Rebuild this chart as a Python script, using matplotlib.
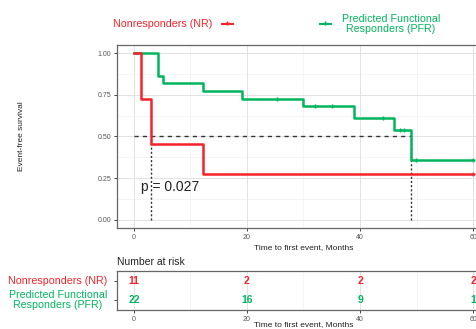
import numpy as np
import matplotlib
matplotlib.use('Agg')
import matplotlib.pyplot as plt
from matplotlib.lines import Line2D

plt.rcParams['font.family'] = ['Liberation Sans', 'DejaVu Sans']

red = "#F5222A"
green = "#00B55E"

# step curves (time in months, survival probability)
nr_t = [0, 1.2, 3.0, 12.2, 60]
nr_s = [1.0, 0.727, 0.455, 0.273, 0.273]
nr_cens_t = [60]
nr_cens_s = [0.273]

pfr_t = [0, 4.2, 5.1, 12.2, 19.2, 30.0, 38.9, 46.0, 49.0, 60]
pfr_s = [1.0, 0.864, 0.818, 0.773, 0.727, 0.683, 0.613, 0.539, 0.359, 0.359]
pfr_cens_t = [25.3, 32.0, 35.0, 44.0, 47.1, 47.8, 49.9, 60.0]
pfr_cens_s = [0.727, 0.683, 0.683, 0.613, 0.539, 0.539, 0.359, 0.359]

medians = [3.0, 49.0]

risk_times = [0, 20, 40, 60]
nr_risk = [11, 2, 2, 2]
pfr_risk = [22, 16, 9, 1]

group_labels = ["Nonresponders (NR)", "Predicted Functional\nResponders (PFR)"]

W, H = 477, 329
fig = plt.figure(figsize=(W / 100, H / 100), dpi=100)

def box(l, t, r, b):
    return [l / W, 1 - b / H, (r - l) / W, (b - t) / H]

def style(ax):
    for s in ax.spines.values():
        s.set_color("#666666")
        s.set_linewidth(0.9)
    ax.grid(True, which='major', color="#e2e2e2", lw=0.7)
    ax.grid(True, which='minor', color="#f0f0f0", lw=0.5)
    ax.set_axisbelow(True)
    ax.tick_params(which='major', length=2.5, width=0.7, color="#444444",
                   labelsize=5, labelcolor="#555555", pad=1.5)
    ax.tick_params(which='minor', length=0)

# %% main survival panel
ax = fig.add_axes(box(117, 44.7, 490, 228.3))
ax.set_xlim(-3, 63)
ax.set_ylim(-0.05, 1.05)
ax.set_xticks(risk_times)
ax.set_xticks([10, 30, 50], minor=True)
ax.set_yticks([0, 0.25, 0.5, 0.75, 1.0])
ax.set_yticks([0.125, 0.375, 0.625, 0.875], minor=True)
ax.set_yticklabels(["0.00", "0.25", "0.50", "0.75", "1.00"])
style(ax)

ax.step(pfr_t, pfr_s, where='post', color=green, lw=1.8, zorder=3)
ax.step(nr_t, nr_s, where='post', color=red, lw=1.8, zorder=3)
ax.plot(pfr_cens_t, pfr_cens_s, '+', color=green, ms=3.5, mew=1, zorder=4)
ax.plot(nr_cens_t, nr_cens_s, '+', color=red, ms=3.5, mew=1, zorder=4)

ax.plot([0, medians[1]], [0.5, 0.5], color="#333333", lw=1, ls=(0, (3, 3)), zorder=2)
for m in medians:
    ax.plot([m, m], [0, 0.5], color="#333333", lw=1, ls=(0, (1.5, 1.5)), zorder=2)

ax.text(1.2, 0.2, "p = 0.027", fontsize=10, color="#222222", va='center')
ax.set_ylabel("Event-free survival", fontsize=6, color="#222222", labelpad=52)
ax.set_xlabel("Time to first event, Months", fontsize=6, color="#222222", labelpad=2)

# %% legend on top
fig.text(212 / W, 1 - 24 / H, group_labels[0], color=red, fontsize=7.7,
         ha='right', va='center')
fig.add_artist(Line2D([222 / W, 233 / W], [1 - 24 / H] * 2, color=red, lw=1.5))
fig.add_artist(Line2D([227.5 / W], [1 - 23 / H], marker='+', color=red, ms=3, mew=1))
fig.add_artist(Line2D([320 / W, 331 / W], [1 - 24 / H] * 2, color=green, lw=1.5))
fig.add_artist(Line2D([325.5 / W], [1 - 23 / H], marker='+', color=green, ms=3, mew=1))
fig.text(391 / W, 1 - 24 / H, group_labels[1], color=green, fontsize=7.7,
         ha='center', va='center', multialignment='center', linespacing=1.0)

# %% risk table
rt = fig.add_axes(box(117, 270.7, 490, 310))
rt.set_xlim(-3, 63)
rt.set_ylim(2.5, 0.5)
rt.set_xticks(risk_times)
rt.set_xticks([10, 30, 50], minor=True)
rt.set_yticks([1, 2])
rt.set_yticklabels([])
style(rt)
rt.grid(False, axis='y', which='both')
rt.tick_params(axis='y', pad=4)
for t, a, b in zip(risk_times, nr_risk, pfr_risk):
    rt.text(t, 1, str(a), color=red, fontsize=7.5, fontweight='bold', ha='center', va='center')
    rt.text(t, 2, str(b), color=green, fontsize=7.5, fontweight='bold', ha='center', va='center')
rt.text(-3, 0.3, "Number at risk", fontsize=7.5, color="#222222", va='bottom')
fig.text(303.5 / W, 1 - 328 / H, "Time to first event, Months", fontsize=6,
         color="#222222", ha='center', va='bottom')

fig.text(107 / W, 1 - 281.5 / H, group_labels[0], color=red, fontsize=7.7,
         ha='right', va='center')
fig.text(107 / W, 1 - 300 / H, group_labels[1], color=green, fontsize=7.7,
         ha='right', va='center', multialignment='center', linespacing=1.0)

fig.savefig("out.png", dpi=100)
